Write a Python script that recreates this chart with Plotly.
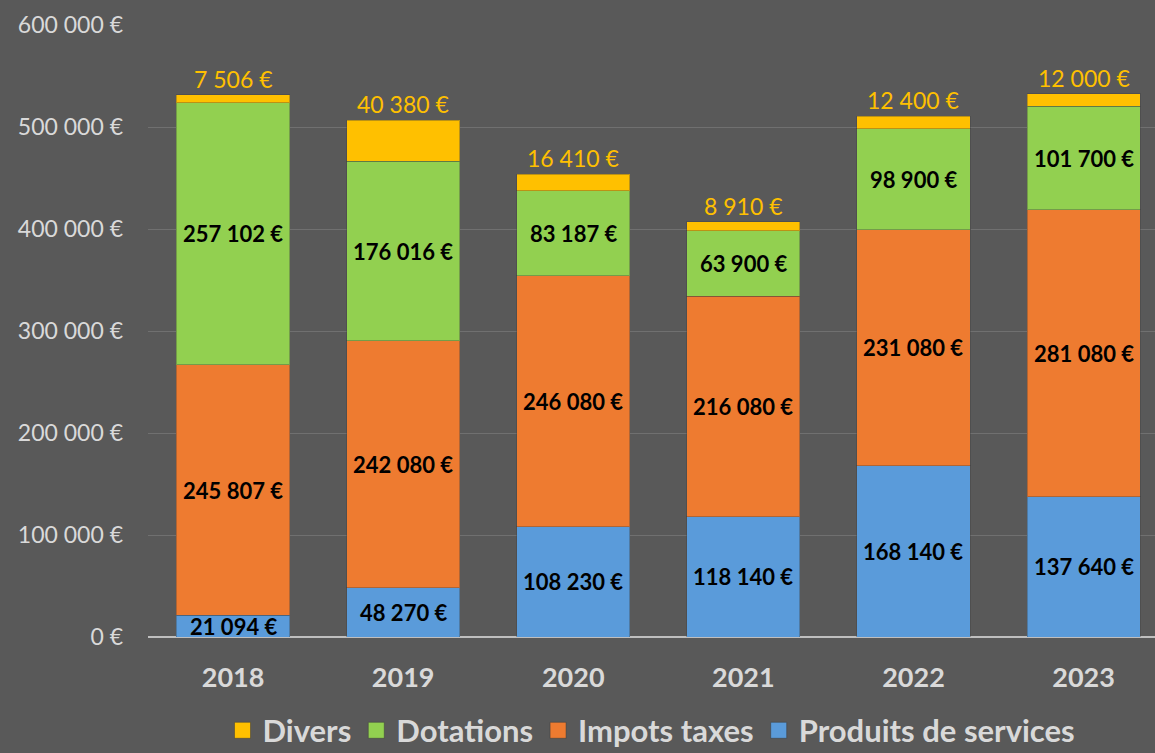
import plotly.graph_objects as go

years = ["2018", "2019", "2020", "2021", "2022", "2023"]
produits = [21094, 48270, 108230, 118140, 168140, 137640]
impots = [245807, 242080, 246080, 216080, 231080, 281080]
dotations = [257102, 176016, 83187, 63900, 98900, 101700]
divers = [7506, 40380, 16410, 8910, 12400, 12000]

series = [
    ("Produits de services", produits, "#5A9BDA"),
    ("Impots taxes", impots, "#EE7B30"),
    ("Dotations", dotations, "#92D050"),
    ("Divers", divers, "#FFC000"),
]

FONT = "Lato, 'Open Sans', sans-serif"


def fmt(v):
    return f"{v:,}".replace(",", " ") + " €"


fig = go.Figure()
for name, vals, col in series:
    fig.add_trace(go.Bar(
        x=years, y=vals, name=name, showlegend=False,
        marker=dict(color=col, line=dict(color="rgba(60,60,60,0.35)", width=1)),
        width=0.665, hoverinfo="x+y+name",
    ))
# legend entries with square swatches
for name, vals, col in series:
    fig.add_trace(go.Scatter(
        x=[None], y=[None], mode="markers", name=name,
        marker=dict(symbol="square", size=18, color=col,
                    line=dict(color="rgba(60,60,60,0.5)", width=1)),
    ))

annotations = []
base = [0] * len(years)
for name, vals, col in series:
    for i, v in enumerate(vals):
        if name == "Divers":
            annotations.append(dict(
                x=i, y=base[i] + v, xref="x", yref="y",
                text=fmt(v), showarrow=False, yanchor="bottom", yshift=0,
                font=dict(family=FONT, size=23, color="#FFC000"),
            ))
        else:
            annotations.append(dict(
                x=i, y=base[i] + v / 2, xref="x", yref="y",
                text="<b>" + fmt(v) + "</b>", showarrow=False,
                font=dict(family=FONT, size=22, color="#000000"),
            ))
        base[i] += v

fig.update_layout(
    width=1155, height=753,
    barmode="stack",
    paper_bgcolor="#595959",
    plot_bgcolor="#595959",
    separators=", ",
    margin=dict(l=148, r=0, t=25, b=116, autoexpand=False),
    annotations=annotations,
    showlegend=True,
    legend=dict(
        orientation="h", traceorder="reversed",
        x=0.5, xref="paper", xanchor="center",
        y=-0.153, yanchor="middle",
        font=dict(family=FONT, size=31, color="#D9D9D9", weight="bold"),
        bgcolor="rgba(0,0,0,0)", itemwidth=30, tracegroupgap=0,
    ),
    xaxis=dict(
        type="category", range=[-0.5, 5.42],
        showgrid=False, zeroline=False, showline=False,
        ticks="", ticklabelstandoff=22,
        tickfont=dict(family=FONT, size=27, color="#D9D9D9", weight="bold"),
    ),
    yaxis=dict(
        range=[0, 600000], dtick=100000, tickformat=",d", ticksuffix=" €",
        showgrid=True, gridcolor="#707070", gridwidth=1,
        zeroline=True, zerolinecolor="#BFBFBF", zerolinewidth=2,
        ticks="", ticklabelstandoff=24,
        tickfont=dict(family=FONT, size=23, color="#D9D9D9"),
    ),
)

fig.write_html("out.html", config={"displayModeBar": False},
               post_script="document.body.style.margin='0';")
